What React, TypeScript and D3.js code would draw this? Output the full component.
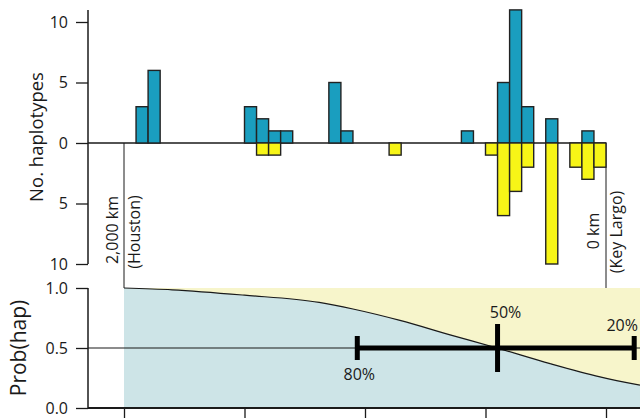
import { useEffect, useRef } from 'react'
import * as d3 from 'd3'

// bins are 50 km wide, keyed by the western (left) edge in km from Key Largo
const binWidthKm = 50
const blueBinKm = [1950, 1900, 1500, 1450, 1400, 1350, 1150, 1100, 600, 450, 400, 350, 250, 100]
const blueCounts = [3, 6, 3, 2, 1, 1, 5, 1, 1, 5, 11, 3, 2, 1]
const yellowBinKm = [1450, 1400, 900, 500, 450, 400, 350, 250, 150, 100, 50]
const yellowCounts = [1, 1, 1, 1, 6, 4, 2, 10, 2, 3, 2]

const countTicks = [-10, -5, 0, 5, 10]
const probTicks = [0, 0.5, 1]
const distTicks = [2000, 1500, 1000, 500, 0]

// cline
const probKm = [2000, 1800, 1500, 1190, 1050, 855, 647, 452, 232, 25, -141]
const probVal = [1.0, 0.985, 0.94, 0.88, 0.825, 0.73, 0.61, 0.5, 0.37, 0.26, 0.19]

// width estimate (80% / 50% / 20% points)
const ciKm = [1032, 450, -117]
const ciLabels = ['80%', '50%', '20%']

const FONT = '"Open Sans", sans-serif'

export default function App() {
  const svgRef = useRef<SVGSVGElement>(null)

  useEffect(() => {
    if (!svgRef.current) return
    const svg = d3.select(svgRef.current)
    svg.selectAll('*').remove()

    const width = 640
    const axisX = 88

    const x = d3.scaleLinear().domain([2000, 0]).range([124, 606])
    const yTop = d3.scaleLinear().domain([-10, 10]).range([264, 22])
    const yBot = d3.scaleLinear().domain([0, 1]).range([408, 288])
    const kmRight = x.invert(width)

    const ink = '#1a1a1a'

    // ---------- top panel ----------
    const top = svg.append('g')

    top.append('line')
      .attr('x1', axisX).attr('x2', x(0))
      .attr('y1', yTop(0)).attr('y2', yTop(0))
      .attr('stroke', ink).attr('stroke-width', 1.3)

    // end markers
    top.selectAll('line.endmark')
      .data([2000, 0])
      .join('line')
      .attr('class', 'endmark')
      .attr('x1', d => x(d)).attr('x2', d => x(d))
      .attr('y1', yTop(0)).attr('y2', yBot(1))
      .attr('stroke', ink).attr('stroke-width', 1)

    const barStroke = '#222'
    top.selectAll('rect.blue')
      .data(blueBinKm)
      .join('rect')
      .attr('class', 'blue')
      .attr('x', d => x(d))
      .attr('width', d => x(d - binWidthKm) - x(d))
      .attr('y', (_, i) => yTop(blueCounts[i]))
      .attr('height', (_, i) => yTop(0) - yTop(blueCounts[i]))
      .attr('fill', '#1a9ebf')
      .attr('stroke', barStroke).attr('stroke-width', 1.4)

    top.selectAll('rect.yellow')
      .data(yellowBinKm)
      .join('rect')
      .attr('class', 'yellow')
      .attr('x', d => x(d))
      .attr('width', d => x(d - binWidthKm) - x(d))
      .attr('y', yTop(0))
      .attr('height', (_, i) => yTop(-yellowCounts[i]) - yTop(0))
      .attr('fill', '#f7f517')
      .attr('stroke', barStroke).attr('stroke-width', 1.4)

    // top y axis
    const ax1 = top.append('g')
      .attr('transform', `translate(${axisX},0)`)
      .call(d3.axisLeft(yTop).tickValues(countTicks).tickFormat(d => String(Math.abs(+d))).tickSize(12).tickPadding(8))
    ax1.select('.domain').remove()
    ax1.append('line').attr('x1', 0).attr('x2', 0).attr('y1', 10).attr('y2', yTop(-10))
      .attr('stroke', ink).attr('stroke-width', 1.5)
    ax1.selectAll('.tick line').attr('stroke', ink).attr('stroke-width', 1.3)
    ax1.selectAll('.tick text').attr('fill', ink).attr('font-size', 16).attr('font-family', FONT)

    top.append('text')
      .attr('transform', `translate(43,137) rotate(-90)`)
      .attr('text-anchor', 'middle')
      .attr('font-size', 18.5).attr('font-family', FONT).attr('fill', ink)
      .text('No. haplotypes')

    const placeLabel = (px: number, py: number, t: string) =>
      top.append('text')
        .attr('transform', `translate(${px},${py}) rotate(-90)`)
        .attr('text-anchor', 'middle')
        .attr('font-size', 16).attr('font-family', FONT).attr('fill', ink)
        .text(t)
    placeLabel(x(2000) - 6, 230, '2,000 km')
    placeLabel(x(2000) + 16, 232, '(Houston)')
    placeLabel(x(0) - 7, 231, '0 km')
    placeLabel(x(0) + 16, 232, '(Key Largo)')

    // ---------- bottom panel ----------
    const bot = svg.append('g')

    bot.append('rect')
      .attr('x', x(2000)).attr('y', yBot(1))
      .attr('width', width - x(2000)).attr('height', yBot(0) - yBot(1))
      .attr('fill', '#f7f5cb')

    const pts: [number, number][] = probKm.map((k, i) => [k, probVal[i]])

    const area = d3.area<[number, number]>()
      .x(d => x(d[0]))
      .y0(yBot(0))
      .y1(d => yBot(d[1]))
      .curve(d3.curveMonotoneX)
    const line = d3.line<[number, number]>()
      .x(d => x(d[0]))
      .y(d => yBot(d[1]))
      .curve(d3.curveMonotoneX)

    bot.append('path').datum(pts).attr('d', area).attr('fill', '#cde4e7')
    bot.append('path').datum(pts).attr('d', line)
      .attr('fill', 'none').attr('stroke', ink).attr('stroke-width', 1.2)

    // 0.5 reference line
    bot.append('line')
      .attr('x1', axisX).attr('x2', width)
      .attr('y1', yBot(0.5)).attr('y2', yBot(0.5))
      .attr('stroke', ink).attr('stroke-width', 1.2)

    // width bar
    bot.append('line')
      .attr('x1', x(ciKm[0])).attr('x2', x(ciKm[2]))
      .attr('y1', yBot(0.5)).attr('y2', yBot(0.5))
      .attr('stroke', '#000').attr('stroke-width', 5)
    const capHalf = [12, 24, 12]
    bot.selectAll('line.cap')
      .data(ciKm)
      .join('line')
      .attr('class', 'cap')
      .attr('x1', d => x(d)).attr('x2', d => x(d))
      .attr('y1', (_, i) => yBot(0.5) - capHalf[i])
      .attr('y2', (_, i) => yBot(0.5) + capHalf[i])
      .attr('stroke', '#000').attr('stroke-width', 5)

    const labelDx = [2, 8, -12]
    const labelY = [380, 318, 331]
    bot.selectAll('text.ci')
      .data(ciLabels)
      .join('text')
      .attr('class', 'ci')
      .attr('x', (_, i) => x(ciKm[i]) + labelDx[i])
      .attr('y', (_, i) => labelY[i])
      .attr('text-anchor', 'middle')
      .attr('font-size', 16).attr('font-family', FONT).attr('fill', ink)
      .text(d => d)

    // bottom y axis
    const ax2 = bot.append('g')
      .attr('transform', `translate(${axisX},0)`)
      .call(d3.axisLeft(yBot).tickValues(probTicks).tickFormat(d3.format('.1f')).tickSize(12).tickPadding(8))
    ax2.select('.domain').remove()
    ax2.append('line').attr('x1', 0).attr('x2', 0).attr('y1', yBot(1)).attr('y2', yBot(0))
      .attr('stroke', ink).attr('stroke-width', 1.5)
    ax2.selectAll('.tick line').attr('stroke', ink).attr('stroke-width', 1.3)
    ax2.selectAll('.tick text').attr('fill', ink).attr('font-size', 16).attr('font-family', FONT)

    bot.append('text')
      .attr('transform', `translate(26,348) rotate(-90)`)
      .attr('text-anchor', 'middle')
      .attr('font-size', 21).attr('font-family', FONT).attr('fill', ink)
      .text('Prob(hap)')

    // distance axis
    const ax3 = bot.append('g')
      .attr('transform', `translate(0,${yBot(0)})`)
      .call(d3.axisBottom(x).tickValues(distTicks).tickFormat(() => '').tickSize(12))
    ax3.select('.domain').remove()
    ax3.append('line').attr('x1', axisX).attr('x2', x(kmRight)).attr('y1', 0).attr('y2', 0)
      .attr('stroke', ink).attr('stroke-width', 2.2)
    ax3.selectAll('.tick line').attr('stroke', ink).attr('stroke-width', 1.3)
  }, [])

  return (
    <svg
      ref={svgRef}
      width={640}
      height={418}
      style={{ position: 'absolute', left: 0, top: 0, background: '#fff' }}
    />
  )
}
